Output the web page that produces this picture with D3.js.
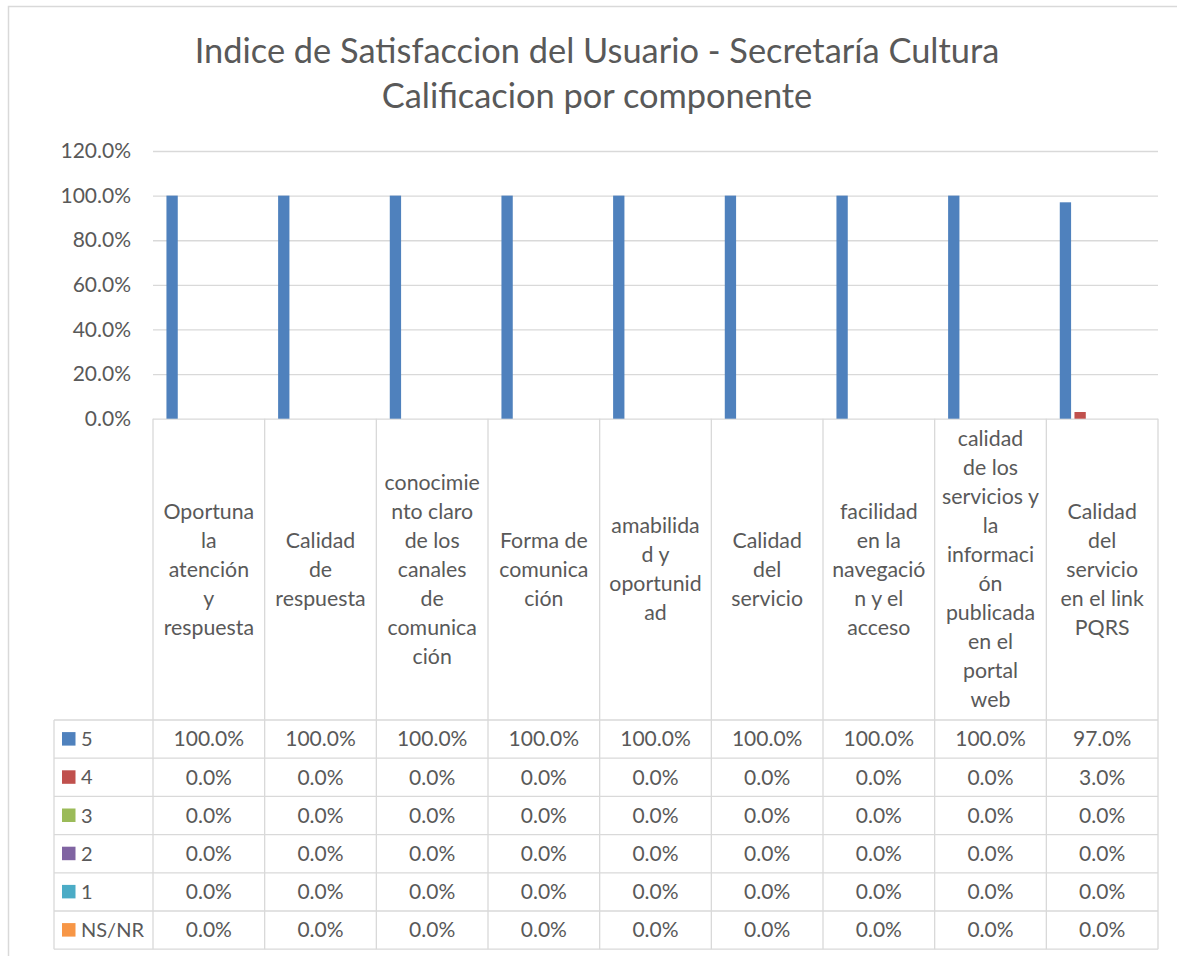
<!DOCTYPE html>
<html>
<head>
<meta charset="utf-8">
<script src="https://cdn.jsdelivr.net/npm/d3@7"></script>
<style>
  html, body { margin: 0; padding: 0; background: #fff; }
  svg { display: block; font-family: Lato, "Open Sans", sans-serif; }
</style>
</head>
<body>
<svg id="chart" width="1177" height="956"></svg>
<script>
// Components rated (each entry is one wrapped label line)
const categories = [
  ["Oportuna", "la", "atención", "y", "respuesta"],
  ["Calidad", "de", "respuesta"],
  ["conocimie", "nto claro", "de los", "canales", "de", "comunica", "ción"],
  ["Forma de", "comunica", "ción"],
  ["amabilida", "d y", "oportunid", "ad"],
  ["Calidad", "del", "servicio"],
  ["facilidad", "en la", "navegació", "n y el", "acceso"],
  ["calidad", "de los", "servicios y", "la", "informaci", "ón", "publicada", "en el", "portal", "web"],
  ["Calidad", "del", "servicio", "en el link", "PQRS"]
];

// Rating levels, in drawing order
const seriesNames = ["5", "4", "3", "2", "1", "NS/NR"];
const seriesColors = ["#4F81BD", "#C0504D", "#9BBB59", "#8064A2", "#4BACC6", "#F79646"];

// Share of answers per rating level, one value per component
const values5    = [1.00, 1.00, 1.00, 1.00, 1.00, 1.00, 1.00, 1.00, 0.97];
const values4    = [0.00, 0.00, 0.00, 0.00, 0.00, 0.00, 0.00, 0.00, 0.03];
const values3    = [0.00, 0.00, 0.00, 0.00, 0.00, 0.00, 0.00, 0.00, 0.00];
const values2    = [0.00, 0.00, 0.00, 0.00, 0.00, 0.00, 0.00, 0.00, 0.00];
const values1    = [0.00, 0.00, 0.00, 0.00, 0.00, 0.00, 0.00, 0.00, 0.00];
const valuesNSNR = [0.00, 0.00, 0.00, 0.00, 0.00, 0.00, 0.00, 0.00, 0.00];

const yTicks = [0, 0.2, 0.4, 0.6, 0.8, 1.0, 1.2];

const titleLines = [
  "Indice de Satisfaccion del Usuario - Secretaría Cultura",
  "Calificacion por componente"
];

const seriesValues = [values5, values4, values3, values2, values1, valuesNSNR];
const series = seriesNames.map((name, i) => ({ name, color: seriesColors[i], values: seriesValues[i] }));
const catIndex = d3.range(categories.length);

const textColor = "#595959";
const lineColor = "#D9D9D9";
const pct = d3.format(".1%");

const svg = d3.select("#chart");

// Chart frame
svg.append("rect")
  .attr("x", 8.5).attr("y", 6.5)
  .attr("width", 1200).attr("height", 1000)
  .attr("fill", "#fff")
  .attr("stroke", lineColor).attr("stroke-width", 1.5);

// Layout
const plot = { left: 153, right: 1158, top: 151, bottom: 418.7 };
const headerBottom = 720;
const rowH = 38.2;
const legendLeft = 54;

const x0 = d3.scaleBand().domain(catIndex).range([plot.left, plot.right]).padding(0);
const x1 = d3.scaleBand().domain(seriesNames).range([0, x0.bandwidth()])
  .paddingInner(0.23).paddingOuter(0.915);
const y = d3.scaleLinear().domain([0, 1.2]).range([plot.bottom, plot.top]);

// Title
svg.append("g").selectAll("text").data(titleLines).join("text")
  .attr("x", 597).attr("y", (d, i) => 63 + i * 45)
  .attr("text-anchor", "middle")
  .attr("font-size", 34.4)
  .attr("fill", textColor)
  .text(d => d);

// Gridlines
svg.append("g")
  .attr("transform", `translate(${plot.left},0)`)
  .call(d3.axisLeft(y).tickValues(yTicks).tickSize(-(plot.right - plot.left)).tickFormat(""))
  .call(g => g.select(".domain").remove())
  .call(g => g.selectAll("line").attr("stroke", lineColor).attr("stroke-width", 1.3));

// Y axis labels
svg.append("g")
  .attr("transform", `translate(${plot.left},0)`)
  .call(d3.axisLeft(y).tickValues(yTicks).tickSize(0).tickPadding(22).tickFormat(pct))
  .call(g => g.select(".domain").remove())
  .call(g => g.selectAll("text")
    .attr("font-family", "Lato, sans-serif")
    .attr("font-size", 21)
    .attr("fill", textColor));

// Bars
svg.append("g").selectAll("g").data(series).join("g")
  .attr("fill", d => d.color)
  .selectAll("rect").data(s => s.values.map((v, i) => ({ s: s.name, i, v }))).join("rect")
  .attr("x", d => x0(d.i) + x1(d.s))
  .attr("width", x1.bandwidth())
  .attr("y", d => y(d.v))
  .attr("height", d => y(0) - y(d.v));

// Data table
const table = svg.append("g").attr("stroke", lineColor).attr("stroke-width", 1.3);
const tableBottom = headerBottom + rowH * series.length;

// vertical cell borders
catIndex.concat([categories.length]).forEach(i => {
  const xx = i < categories.length ? x0(i) : plot.right;
  table.append("line").attr("x1", xx).attr("x2", xx).attr("y1", plot.bottom).attr("y2", tableBottom);
});
table.append("line").attr("x1", legendLeft).attr("x2", legendLeft).attr("y1", headerBottom).attr("y2", tableBottom);

// horizontal row borders
d3.range(series.length + 1).forEach(r => {
  const yy = headerBottom + r * rowH;
  table.append("line").attr("x1", legendLeft).attr("x2", plot.right).attr("y1", yy).attr("y2", yy);
});

// Category header labels, vertically centred in the header row
const lineH = 29;
const headerMid = (plot.bottom + headerBottom) / 2;
svg.append("g").selectAll("text").data(categories).join("text")
  .attr("text-anchor", "middle")
  .attr("font-size", 21.3)
  .attr("fill", textColor)
  .each(function(lines, i) {
    const cx = x0(i) + x0.bandwidth() / 2;
    const y0 = headerMid - (lines.length - 1) * lineH / 2;
    d3.select(this).selectAll("tspan").data(lines).join("tspan")
      .attr("x", cx)
      .attr("y", (d, k) => y0 + k * lineH)
      .attr("dy", "0.35em")
      .text(d => d);
  });

// Table rows: legend key + values
const rows = svg.append("g").selectAll("g").data(series).join("g")
  .attr("transform", (d, r) => `translate(0,${headerBottom + r * rowH + rowH / 2})`);

rows.append("rect")
  .attr("x", 62).attr("y", -7).attr("width", 13.5).attr("height", 13.5)
  .attr("fill", d => d.color);

rows.append("text")
  .attr("x", 81).attr("dy", "0.35em")
  .attr("font-size", 20)
  .attr("fill", textColor)
  .text(d => d.name);

rows.selectAll("text.val").data(d => d.values).join("text")
  .attr("class", "val")
  .attr("x", (v, i) => x0(i) + x0.bandwidth() / 2)
  .attr("dy", "0.35em")
  .attr("text-anchor", "middle")
  .attr("font-size", 21)
  .attr("fill", textColor)
  .text(v => pct(v));
</script>
</body>
</html>
